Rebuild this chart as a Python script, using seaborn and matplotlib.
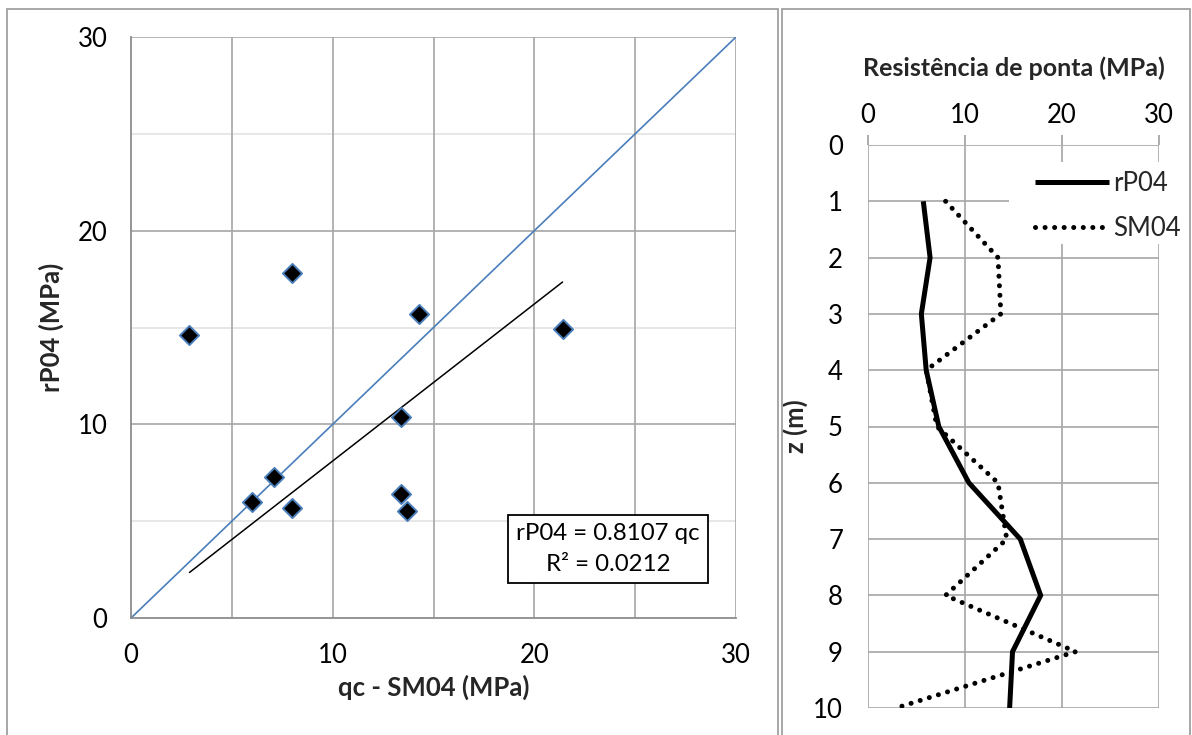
import numpy as np
import pandas as pd
import matplotlib
matplotlib.use("Agg")
import matplotlib.pyplot as plt
from matplotlib.patches import Rectangle
import seaborn as sns

# Cone tip resistance by depth (MPa)
depth = [1, 2, 3, 4, 5, 6, 7, 8, 9, 10]
rp04 = [5.7, 6.4, 5.5, 6.0, 7.3, 10.4, 15.7, 17.8, 14.9, 14.6]
sm04 = [8.0, 13.4, 13.7, 6.0, 7.1, 13.4, 14.3, 8.0, 21.4, 2.9]

# Linear fit through the origin, as printed in the label box
slope = 0.8107
r2 = 0.0212

left_ticks = [0, 10, 20, 30]
depth_ticks = list(range(0, 11))

sns.set_theme(style="white")
plt.rcParams["font.family"] = ["Lato", "DejaVu Sans"]

GRID = "#a6a6a6"
MINOR = "#e3e3e3"
AXIS = "#8c8c8c"
BLUE = "#4a7ebb"

W, H = 1192, 735
fig = plt.figure(figsize=(W / 100, H / 100), dpi=100)


def box(x0, y0, x1, y1):
    return [x0 / W, 1 - y1 / H, (x1 - x0) / W, (y1 - y0) / H]


# panel frames
for (x0, x1) in [(6.5, 777.5), (781.5, 1190)]:
    fig.patches.append(Rectangle((x0 / W, -0.05), (x1 - x0) / W, 1.05 - 8.5 / H,
                                 transform=fig.transFigure, fill=False,
                                 edgecolor="#a0a0a0", linewidth=1.3))

# ---------------- scatter: rP04 vs SM04 ----------------
ax = fig.add_axes(box(131, 37, 736, 618))
df = pd.DataFrame({"qc": sm04, "rp": rp04, "z": depth})
ax.set_xlim(0, 30)
ax.set_ylim(0, 30)
for v in [5, 15, 25]:
    ax.axhline(v, color=MINOR, lw=1.2, zorder=0)
for v in [10, 20, 30]:
    ax.axhline(v, color=GRID, lw=1.2, zorder=0.5)
for v in [5, 10, 15, 20, 25, 30]:
    ax.axvline(v, color=GRID, lw=1.2, zorder=0.5)

ax.plot([0, 30], [0, 30], color=BLUE, lw=1.2, zorder=2)
xf = np.array([min(sm04), max(sm04)])
ax.plot(xf, slope * xf, color="black", lw=1.1, zorder=2)

sns.scatterplot(data=df, x="qc", y="rp", ax=ax, marker="D", s=95,
                color="black", edgecolor=BLUE, linewidth=1.4, zorder=3,
                legend=False)

for s in ["top", "right"]:
    ax.spines[s].set_visible(False)
for s in ["left", "bottom"]:
    ax.spines[s].set_color(AXIS)
    ax.spines[s].set_linewidth(1.3)
ax.set_xticks(left_ticks)
ax.set_yticks(left_ticks)
ax.tick_params(axis="both", direction="out", length=6, width=1.3,
               color=AXIS, labelsize=18.5, colors="black")
ax.tick_params(axis="x", pad=12)
ax.tick_params(axis="y", pad=11)
ax.tick_params(axis="both", color=AXIS)
ax.set_xlabel("qc - SM04 (MPa)", fontsize=18.5, fontweight="bold", labelpad=5)
ax.set_ylabel("rP04 (MPa)", fontsize=18.5, fontweight="bold", labelpad=10)

ax.text(23.65, 3.56, f"rP04 = {slope} qc\nR² = {r2}", ha="center", va="center",
        multialignment="center", fontsize=17.3, linespacing=1.55, zorder=5,
        color="black",
        bbox=dict(boxstyle="square,pad=0.34", facecolor="white",
                  edgecolor="black", linewidth=1.3))

# ---------------- depth profile ----------------
ax2 = fig.add_axes(box(868, 145, 1159, 708))
prof = pd.DataFrame({"z": depth * 2,
                     "val": rp04 + sm04,
                     "serie": ["rP04"] * len(depth) + ["SM04"] * len(depth)})
ax2.set_xlim(0, 30)
ax2.set_ylim(10, 0)
for v in depth_ticks:
    ax2.axhline(v, color=GRID, lw=1.2, zorder=0)
for v in [0, 10, 20, 30]:
    ax2.axvline(v, color=GRID, lw=1.2, zorder=0)

# white area behind the legend, hiding the grid there
ax2.add_patch(Rectangle((1009 / W, 1 - 244 / H), (1185 - 1009) / W, (244 - 162) / H,
                        transform=fig.transFigure, facecolor="white",
                        edgecolor="none", zorder=1, clip_on=False))

sns.lineplot(data=prof[prof.serie == "rP04"], x="val", y="z", orient="y",
             ax=ax2, color="black", lw=3.6, label="rP04",
             solid_joinstyle="miter", solid_capstyle="butt")
sns.lineplot(data=prof[prof.serie == "SM04"], x="val", y="z", orient="y",
             ax=ax2, color="black", lw=3.6, label="SM04",
             linestyle=(0, (0.01, 1.9)), dash_capstyle="round")

for s in ax2.spines.values():
    s.set_visible(False)
ax2.xaxis.tick_top()
ax2.xaxis.set_label_position("top")
ax2.set_xticks([0, 10, 20, 30])
ax2.set_yticks(depth_ticks)
ax2.tick_params(axis="both", direction="out", length=7, width=1.3,
                color=GRID, labelsize=18.5, colors="black")
ax2.tick_params(axis="x", pad=5)
ax2.tick_params(axis="y", pad=11)
ax2.tick_params(axis="both", color=GRID)
ax2.tick_params(axis="x", top=True, bottom=False, labeltop=True, labelbottom=False)
ax2.set_xlabel("Resistência de ponta (MPa)", fontsize=18, fontweight="bold",
               labelpad=20)
ax2.set_ylabel("z (m)", fontsize=18.5, fontweight="bold", labelpad=4)

leg = ax2.legend(loc="upper left", bbox_to_anchor=(1027 / W, 1 - 163 / H),
                 bbox_transform=fig.transFigure, frameon=False, fontsize=18.5,
                 handlelength=2.9, handletextpad=0.15, borderpad=0.3,
                 labelspacing=0.8, borderaxespad=0)

fig.savefig("out.png", dpi=100, facecolor="white")
